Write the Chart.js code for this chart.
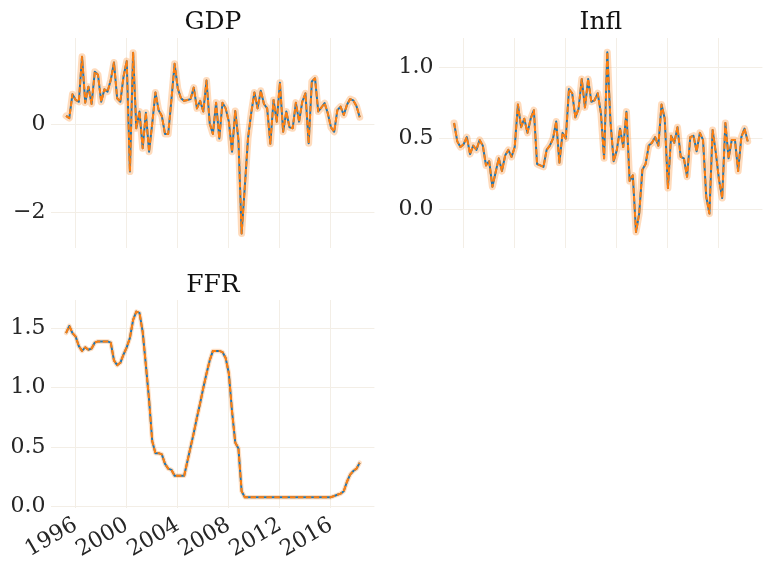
<!DOCTYPE html>
<html><head><meta charset="utf-8">
<script src="https://cdn.jsdelivr.net/npm/chart.js@4/dist/chart.umd.min.js"></script>
<style>
html,body{margin:0;padding:0;background:#fff;}
#wrap{position:relative;width:772px;height:572px;overflow:hidden;background:#fff;}
.pane{position:absolute;}
canvas{display:block;}
</style></head><body>
<div id="wrap">
<div class="pane" style="left:0;top:0;"><canvas id="cGDP" width="386" height="252"></canvas></div>
<div class="pane" style="left:386px;top:0;"><canvas id="cInfl" width="386" height="252"></canvas></div>
<div class="pane" style="left:0;top:252px;"><canvas id="cFFR" width="386" height="320"></canvas></div>
</div>
<script>
// quarterly observations, 1995Q1 .. 2018Q1 (plotted at quarter end)
const startYear = 1995;
const nObs = 93;
const quarters = [];
for (let i = 0; i < nObs; i++) quarters.push((startYear + Math.floor(i / 4)) + 'Q' + (i % 4 + 1));

const gdp = [0.19,0.14,0.68,0.55,0.51,1.53,0.49,0.85,0.46,1.19,
1.12,0.51,0.79,0.74,1.00,1.40,0.59,0.51,1.08,1.43,
-1.07,1.62,-0.09,0.29,-0.54,0.26,-0.62,0.02,0.72,0.32,
0.19,-0.22,-0.22,0.55,1.37,0.81,0.59,0.53,0.55,0.57,
0.83,0.36,0.53,0.29,0.99,0.02,-0.22,0.49,-0.32,0.49,
0.36,0.06,-0.62,0.30,-0.35,-2.47,-1.41,-0.32,0.25,0.72,
0.36,0.76,0.46,0.36,-0.44,0.55,0.06,0.94,-0.17,0.29,
-0.07,-0.09,0.49,0.06,0.51,0.70,-0.43,0.97,1.04,0.29,
0.38,0.48,0.25,-0.07,-0.17,0.32,0.40,0.21,0.44,0.57,
0.54,0.41,0.16];

const infl = [0.61,0.48,0.44,0.46,0.51,0.39,0.45,0.42,0.49,0.45,
0.31,0.34,0.16,0.26,0.36,0.27,0.38,0.42,0.37,0.44,
0.74,0.58,0.64,0.54,0.64,0.70,0.32,0.31,0.30,0.42,
0.45,0.50,0.62,0.33,0.54,0.50,0.85,0.82,0.65,0.71,
0.92,0.72,0.92,0.76,0.77,0.82,0.68,0.36,1.11,0.62,
0.34,0.42,0.57,0.44,0.69,0.20,0.24,-0.16,-0.03,0.28,
0.32,0.45,0.47,0.51,0.45,0.74,0.64,0.15,0.52,0.47,
0.58,0.37,0.36,0.23,0.51,0.52,0.41,0.54,0.49,0.09,
-0.03,0.56,0.40,0.21,0.08,0.61,0.36,0.49,0.49,0.27,
0.51,0.57,0.48];

const ffr = [1.46,1.52,1.46,1.43,1.35,1.31,1.34,1.32,1.33,1.38,
1.39,1.39,1.39,1.39,1.38,1.23,1.19,1.21,1.28,1.34,
1.42,1.57,1.64,1.63,1.47,1.19,0.90,0.55,0.45,0.45,
0.44,0.36,0.32,0.31,0.26,0.26,0.26,0.26,0.38,0.50,
0.62,0.75,0.87,1.00,1.12,1.23,1.31,1.31,1.31,1.30,
1.25,1.12,0.80,0.54,0.49,0.13,0.08,0.08,0.08,0.08,
0.08,0.08,0.08,0.08,0.08,0.08,0.08,0.08,0.08,0.08,
0.08,0.08,0.08,0.08,0.08,0.08,0.08,0.08,0.08,0.08,
0.08,0.08,0.08,0.08,0.09,0.10,0.11,0.13,0.21,0.27,
0.30,0.32,0.37];

const xTicks = [1996, 2000, 2004, 2008, 2012, 2016];
const gdpTicks = [-2, 0];
const inflTicks = [0, 0.5, 1.0];
const ffrTicks = [0, 0.5, 1.0, 1.5];

// quarter label -> decimal year at quarter end
function qToX(q) { const y = parseInt(q.slice(0, 4)); const k = parseInt(q.slice(5)); return y + k / 4; }
const xs = quarters.map(qToX);
function pts(vals) { return vals.map((v, i) => ({ x: xs[i], y: v })); }

const FONT = "'DejaVu Serif', 'Liberation Serif', serif";
const TXT = '#262626';
const TITLE = '#111111';
const GRID = '#f3eee6';
const TICK_SIZE = 22;

function fmtMinus(s) { return s.replace('-', '\u2212'); }

function makeChart(id, title, vals, yTicks, yFmt, cfg) {
  const ctx = document.getElementById(id);
  return new Chart(ctx, {
    type: 'line',
    data: {
      datasets: [
        { data: pts(vals), borderColor: '#ff7f0e', borderWidth: 2, borderDash: [5.5, 2.4],
          borderCapStyle: 'butt', borderJoinStyle: 'round', pointRadius: 0, order: 1 },
        { data: pts(vals), borderColor: '#1f77b4', borderWidth: 2,
          borderJoinStyle: 'round', pointRadius: 0, order: 2 },
        { data: pts(vals), borderColor: cfg.bandColor, borderWidth: cfg.bandWidth,
          borderJoinStyle: 'round', borderCapStyle: 'round', pointRadius: 0, order: 3 }
      ]
    },
    options: {
      responsive: false,
      animation: false,
      devicePixelRatio: 1,
      layout: { padding: cfg.padding },
      plugins: {
        legend: { display: false },
        tooltip: { enabled: false },
        title: {
          display: true, text: title, fullSize: false, color: TITLE,
          font: { family: FONT, size: 25, weight: 'normal', lineHeight: 1.2 },
          padding: cfg.titlePad
        }
      },
      scales: {
        x: {
          type: 'linear', min: 1994.1, max: 2019.4,
          border: { display: false },
          grid: { color: GRID, lineWidth: 1, drawTicks: false },
          afterBuildTicks: (s) => { s.ticks = xTicks.map(v => ({ value: v })); },
          afterFit: (s) => { s.height = cfg.xHeight; s.paddingLeft = 0; s.paddingRight = 0; s.paddingTop = 0; s.paddingBottom = 0; },
          ticks: {
            display: cfg.showX, autoSkip: false, minRotation: 30, maxRotation: 30,
            color: TXT, padding: 4,
            font: { family: FONT, size: TICK_SIZE },
            callback: (v) => String(v)
          }
        },
        y: {
          type: 'linear', min: cfg.ymin, max: cfg.ymax,
          border: { display: false },
          grid: { color: GRID, lineWidth: 1, drawTicks: false },
          afterBuildTicks: (s) => { s.ticks = yTicks.map(v => ({ value: v })); },
          afterFit: (s) => { s.width = cfg.yWidth; s.paddingTop = 0; s.paddingBottom = 0; s.paddingLeft = 0; s.paddingRight = 0; },
          ticks: {
            color: TXT, padding: 6,
            font: { family: FONT, size: TICK_SIZE },
            callback: yFmt
          }
        }
      }
    }
  });
}

const band = 'rgba(255,127,14,0.28)';

makeChart('cGDP', 'GDP', gdp, gdpTicks,
  (v) => fmtMinus(String(v)),
  { padding: { left: 0, right: 11.6, top: 0, bottom: 4 }, titlePad: { top: 7.5, bottom: 0.5 },
    xHeight: 0, showX: false, yWidth: 51.4, ymin: -2.8, ymax: 1.953, bandColor: band, bandWidth: 7 });

makeChart('cInfl', 'Infl', infl, inflTicks,
  (v) => fmtMinus(Number(v).toFixed(1)),
  { padding: { left: 0, right: 9.6, top: 0, bottom: 4 }, titlePad: { top: 7.5, bottom: 0.5 },
    xHeight: 0, showX: false, yWidth: 53.4, ymin: -0.273, ymax: 1.21, bandColor: band, bandWidth: 7 });

makeChart('cFFR', 'FFR', ffr, ffrTicks,
  (v) => fmtMinus(Number(v).toFixed(1)),
  { padding: { left: 0, right: 11.6, top: 0, bottom: 0 }, titlePad: { top: 18, bottom: 0 },
    xHeight: 64, showX: true, yWidth: 51.4, ymin: -0.011, ymax: 1.738, bandColor: 'rgba(255,127,14,0.25)', bandWidth: 4.5 });
</script>
</body></html>
